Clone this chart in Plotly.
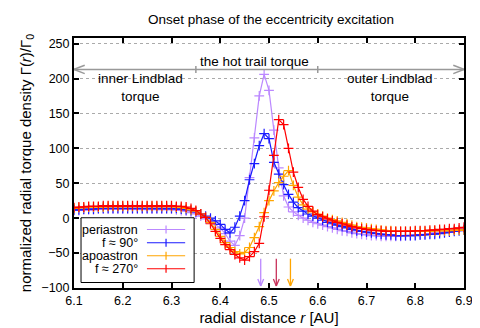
import plotly.graph_objects as go

# radial grid [AU]
r_au = [6.10, 6.11, 6.12, 6.13, 6.14, 6.15, 6.16, 6.17, 6.18, 6.19,
        6.20, 6.21, 6.22, 6.23, 6.24, 6.25, 6.26, 6.27, 6.28, 6.29,
        6.30, 6.31, 6.32, 6.33, 6.34, 6.35, 6.36, 6.37, 6.38, 6.39,
        6.40, 6.41, 6.42, 6.43, 6.44, 6.45, 6.46, 6.47, 6.48, 6.49,
        6.50, 6.51, 6.52, 6.53, 6.54, 6.55, 6.56, 6.57, 6.58, 6.59,
        6.60, 6.61, 6.62, 6.63, 6.64, 6.65, 6.66, 6.67, 6.68, 6.69,
        6.70, 6.71, 6.72, 6.73, 6.74, 6.75, 6.76, 6.77, 6.78, 6.79,
        6.80, 6.81, 6.82, 6.83, 6.84, 6.85, 6.86, 6.87, 6.88, 6.89,
        6.90]

periastron = [11, 11, 12, 12, 12, 13, 13, 13, 13, 13,
              13, 13, 13, 13, 13, 13, 13, 13, 13, 13,
              13, 12, 11, 10, 8, 6, 3, -1, -5, -9,
              -14, -22, -33, -39, -25, 0, 58, 115, 175, 206,
              183, 126, 72, 32, 16, 9, 4, 0, -3, -6,
              -8, -10, -12, -14, -16, -18, -19, -21, -22, -23,
              -24, -25, -25, -26, -26, -26, -26, -26, -25, -25,
              -24, -24, -23, -22, -21, -20, -19, -18, -17, -16,
              -15]

f90 = [12, 12, 13, 13, 13, 14, 14, 14, 14, 14,
       14, 14, 14, 14, 14, 14, 14, 14, 14, 14,
       14, 14, 13, 12, 11, 9, 6, 3, 0, -4,
       -9, -16, -21, -13, 3, 25, 55, 78, 104, 121,
       114, 80, 63, 48, 34, 23, 15, 10, 6, 3,
       0, -3, -6, -8, -10, -12, -14, -16, -18, -19,
       -20, -21, -22, -23, -24, -24, -25, -25, -25, -25,
       -25, -24, -24, -23, -23, -22, -21, -20, -19, -18,
       -17]

apoastron = [14, 15, 15, 16, 16, 16, 16, 17, 17, 17,
             17, 17, 17, 17, 17, 17, 17, 17, 17, 17,
             17, 16, 15, 14, 12, 10, 6, 1, -6, -16,
             -26, -35, -42, -48, -51, -49, -42, -28, -12, 8,
             25, 39, 51, 60, 68, 47, 30, 19, 13, 9,
             6, 3, 0, -2, -4, -6, -8, -10, -12, -13,
             -14, -15, -16, -17, -18, -18, -19, -19, -19, -19,
             -19, -19, -19, -19, -18, -18, -18, -18, -17, -17,
             -17]

f270 = [15, 16, 16, 17, 17, 17, 18, 18, 18, 18,
        18, 18, 18, 18, 18, 18, 18, 18, 18, 18,
        18, 17, 17, 16, 14, 11, 6, 1, -8, -19,
        -29, -38, -45, -52, -57, -60, -55, -48, -36, 2,
        40, 90, 141, 134, 100, 66, 44, 27, 17, 10,
        5, 2, -1, -4, -6, -8, -10, -12, -14, -15,
        -16, -17, -18, -18, -19, -19, -19, -19, -19, -19,
        -18, -18, -18, -17, -17, -16, -16, -15, -15, -14,
        -13]

names = ["periastron", "f \u2248 90\u00b0", "apoastron", "f \u2248 270\u00b0"]
colors = ["#bb88ff", "#1a1aff", "#ffa500", "#ff0000"]
series = [periastron, f90, apoastron, f270]

# peak positions marked by arrows at the bottom
arrow_r = [6.483, 6.515, 6.544]
arrow_colors = ["#bb88ff", "#c8325a", "#ffa500"]

# region labels
trail_y = 213
trail_ticks = [6.35, 6.6]

FONT = "Liberation Sans, Arial, sans-serif"

fig = go.Figure()
for name, col, vals in zip(names, colors, series):
    fig.add_trace(go.Scatter(
        x=r_au, y=vals, name=name, mode="lines+markers",
        line=dict(color=col, width=1.2),
        marker=dict(symbol="cross-thin", size=7, line=dict(color=col, width=1.2)),
        showlegend=False))

shapes = []
gray = "#999999"
# double arrow across the plot
shapes.append(dict(type="line", xref="x", yref="y", x0=6.1, x1=6.9, y0=trail_y, y1=trail_y,
                   line=dict(color=gray, width=1.5)))
for t in trail_ticks:
    shapes.append(dict(type="line", xref="x", yref="y", x0=t, x1=t, y0=trail_y - 5, y1=trail_y + 5,
                       line=dict(color=gray, width=1.5)))
for end, d in [(6.1, 1), (6.9, -1)]:
    for s in (1, -1):
        shapes.append(dict(type="line", xref="x", yref="y", x0=end, x1=end + d * 0.022,
                           y0=trail_y, y1=trail_y + s * 6, line=dict(color=gray, width=1.5)))

# peak arrows
for xa, col in zip(arrow_r, arrow_colors):
    shapes.append(dict(type="line", xref="x", yref="y", x0=xa, x1=xa, y0=-58, y1=-97,
                       line=dict(color=col, width=1.3)))
    for s in (1, -1):
        shapes.append(dict(type="line", xref="x", yref="y", x0=xa + s * 0.006, x1=xa,
                           y0=-87, y1=-97, line=dict(color=col, width=1.3)))

# legend box
shapes.append(dict(type="rect", xref="paper", yref="paper", x0=0.018, x1=0.308, y0=0.022, y1=0.281,
                   fillcolor="white", line=dict(color="black", width=1), layer="above"))
annotations = []
row_y = [0.234, 0.181, 0.129, 0.077]
for name, col, yy in zip(names, colors, row_y):
    annotations.append(dict(xref="paper", yref="paper", x=0.168, y=yy, text=name, showarrow=False,
                            xanchor="right", yanchor="middle", font=dict(size=12.5, color="black")))
    shapes.append(dict(type="line", xref="paper", yref="paper", x0=0.187, x1=0.285, y0=yy, y1=yy,
                       line=dict(color=col, width=1.2), layer="above"))
    shapes.append(dict(type="line", xref="paper", yref="paper", x0=0.236, x1=0.236,
                       y0=yy - 0.016, y1=yy + 0.016, line=dict(color=col, width=1.2), layer="above"))

annotations += [
    dict(x=6.47, y=225, text="the hot trail torque", showarrow=False, font=dict(size=13.5)),
    dict(x=6.237, y=187, text="inner Lindblad<br>torque", showarrow=False, font=dict(size=13.5)),
    dict(x=6.748, y=187, text="outer Lindblad<br>torque", showarrow=False, font=dict(size=13.5)),
]

fig.update_layout(
    width=480, height=328,
    margin=dict(l=66, r=24, t=30, b=44),
    paper_bgcolor="white", plot_bgcolor="white",
    font=dict(family=FONT, size=12.5, color="black"),
    title=dict(text="Onset phase of the eccentricity excitation", x=0.548, xanchor="center",
               y=0.965, yanchor="middle", font=dict(size=13.5)),
    shapes=shapes, annotations=annotations,
    xaxis=dict(range=[6.1, 6.9], dtick=0.1, tickformat=".1f", ticks="inside", ticklen=5,
               tickwidth=1.5, tickcolor="black", showline=True, linecolor="black", linewidth=2,
               mirror="ticks", showgrid=False, zeroline=False,
               title=dict(text="radial distance <i>r</i> [AU]", standoff=5)),
    yaxis=dict(range=[-100, 258], tickvals=[-100, -50, 0, 50, 100, 150, 200, 250],
               ticks="inside", ticklen=5, tickwidth=1.5, tickcolor="black", showline=True,
               linecolor="black", linewidth=2, mirror="ticks", showgrid=True,
               gridcolor="#aaaaaa", griddash="dot", gridwidth=1, zeroline=False,
               title=dict(text="normalized radial torque density \u0393(<i>r</i>)/\u0393<sub>0</sub>",
                          standoff=6)),
)

fig.write_html("out.html")
